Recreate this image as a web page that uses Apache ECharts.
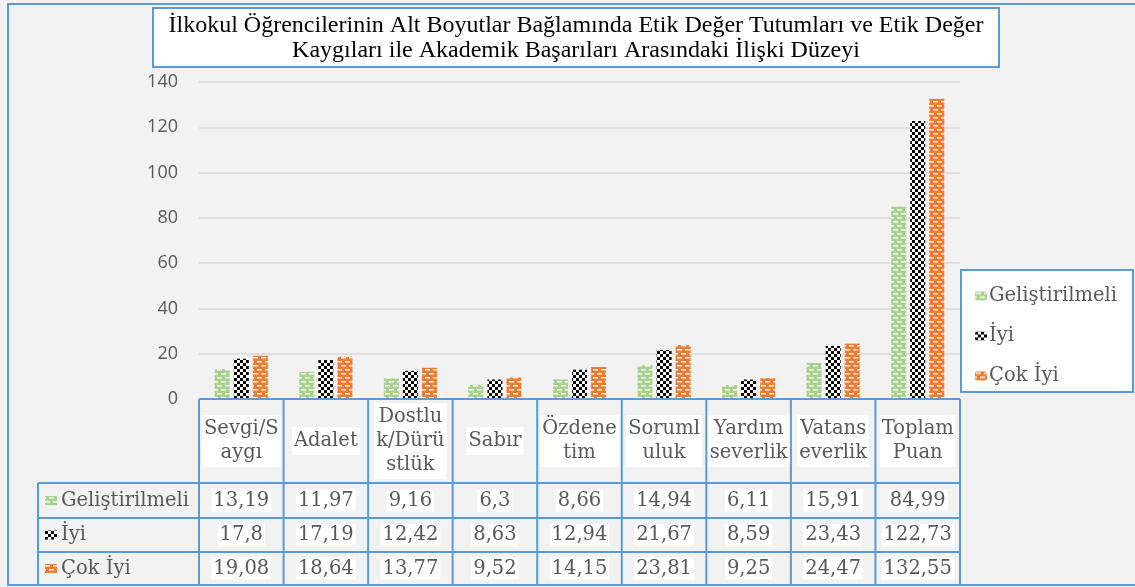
<!DOCTYPE html>
<html>
<head>
<meta charset="utf-8">
<script src="https://cdn.jsdelivr.net/npm/echarts@6/dist/echarts.min.js"></script>
<style>
html,body{margin:0;padding:0;background:#f2f2f2;}
#c{width:1135px;height:587px;}
</style>
</head>
<body>
<div id="c"></div>
<script>
// ---- data ----
const titleText = 'İlkokul Öğrencilerinin Alt Boyutlar Bağlamında Etik Değer Tutumları ve Etik Değer\nKaygıları ile Akademik Başarıları Arasındaki İlişki Düzeyi';
const categories = ['Sevgi/S\naygı', 'Adalet', 'Dostlu\nk/Dürü\nstlük', 'Sabır', 'Özdene\ntim', 'Soruml\nuluk', 'Yardım\nseverlik', 'Vatans\neverlik', 'Toplam\nPuan'];
const seriesNames = ['Geliştirilmeli', 'İyi', 'Çok İyi'];
const gelistirilmeli = [13.19, 11.97, 9.16, 6.3, 8.66, 14.94, 6.11, 15.91, 84.99];
const iyi = [17.8, 17.19, 12.42, 8.63, 12.94, 21.67, 8.59, 23.43, 122.73];
const cokIyi = [19.08, 18.64, 13.77, 9.52, 14.15, 23.81, 9.25, 24.47, 132.55];
const yMax = 140, yStep = 20;

// ---- patterns ----
function brick(base) {
  const c = document.createElement('canvas');
  c.width = 8; c.height = 8;
  const g = c.getContext('2d');
  g.fillStyle = base; g.fillRect(0, 0, 8, 8);
  g.fillStyle = 'rgba(255,255,255,0.95)';
  g.fillRect(1, 1, 5, 1.5);
  g.fillRect(5, 5, 3, 1.5);
  g.fillRect(0, 5, 2, 1.5);
  return { image: c, repeat: 'repeat' };
}
function checker() {
  const c = document.createElement('canvas');
  c.width = 6; c.height = 6;
  const g = c.getContext('2d');
  g.fillStyle = '#ffffff'; g.fillRect(0, 0, 6, 6);
  g.fillStyle = '#000000';
  g.fillRect(0, 0, 3, 3); g.fillRect(3, 3, 3, 3);
  return { image: c, repeat: 'repeat' };
}
const patterns = [brick('#a9d18e'), checker(), brick('#ed7d31')];
const seriesData = [gelistirilmeli, iyi, cokIyi];

const BLUE = '#5b9bd5';
const TXT = '#595959';
const SERIF = '"DejaVu Serif", serif';

const chart = echarts.init(document.getElementById('c'), null, { renderer: 'canvas' });
const option = {
  backgroundColor: '#f2f2f2',
  animation: false,
  grid: { left: 199, right: 175, top: 82, bottom: 188, containLabel: false },
  xAxis: {
    type: 'category', data: categories,
    axisLine: { show: false }, axisTick: { show: false }, axisLabel: { show: false }
  },
  yAxis: {
    type: 'value', min: 0, max: yMax, interval: yStep,
    axisLine: { show: false }, axisTick: { show: false },
    axisLabel: { color: TXT, fontSize: 18, fontFamily: '"Open Sans", sans-serif', margin: 21 },
    splitLine: { lineStyle: { color: '#d9d9d9', width: 1.5 } }
  },
  legend: {
    orient: 'vertical', left: 970, top: 281,
    itemWidth: 12, itemHeight: 9, itemGap: 20,
    textStyle: { color: TXT, fontSize: 19.5, fontFamily: SERIF, lineHeight: 20, padding: [0, 0, 0, -3] },
    data: seriesNames
  },
  series: seriesNames.map((n, i) => ({
    name: n, type: 'bar', data: seriesData[i],
    barWidth: 15, barGap: '27%',
    itemStyle: { color: patterns[i] }
  }))
};
chart.setOption(option);

// ---- table & boxes via graphic ----
function buildGraphic() {
  const centers = categories.map((c, i) => chart.convertToPixel({ xAxisIndex: 0 }, i));
  const band = centers.length > 1 ? centers[1] - centers[0] : 80;
  const left = centers[0] - band / 2;
  const right = centers[centers.length - 1] + band / 2;
  const yTop = chart.convertToPixel({ yAxisIndex: 0 }, 0);
  const rowLines = [483, 518, 552, 585];
  const labelLeft = 38;
  const els = [];
  // outer frame
  els.push({ type: 'rect', shape: { x: 8, y: 4, width: 1140, height: 581 }, style: { fill: null, stroke: BLUE, lineWidth: 2 }, z: 1 });
  // title box
  els.push({ type: 'rect', shape: { x: 153, y: 8, width: 846, height: 59 }, style: { fill: '#fff', stroke: BLUE, lineWidth: 2 }, z: 10 });
  els.push({ type: 'text', x: 576, y: 38, style: { text: titleText, fill: '#000', font: '24px "Liberation Serif", serif', align: 'center', verticalAlign: 'middle', lineHeight: 25 }, z: 11 });
  // legend box
  els.push({ type: 'rect', shape: { x: 961, y: 270, width: 172, height: 122 }, style: { fill: '#fff', stroke: BLUE, lineWidth: 2 }, z: -1 });
  // table horizontal lines
  els.push({ type: 'line', shape: { x1: left, y1: yTop, x2: right, y2: yTop }, style: { stroke: BLUE, lineWidth: 2 }, z: 20 });
  rowLines.forEach(y => els.push({ type: 'line', shape: { x1: labelLeft, y1: y, x2: right, y2: y }, style: { stroke: BLUE, lineWidth: 2 }, z: 20 }));
  // vertical lines
  els.push({ type: 'line', shape: { x1: labelLeft, y1: rowLines[0], x2: labelLeft, y2: rowLines[3] }, style: { stroke: BLUE, lineWidth: 2 }, z: 20 });
  for (let i = 0; i <= categories.length; i++) {
    const x = left + i * band;
    els.push({ type: 'line', shape: { x1: x, y1: yTop, x2: x, y2: rowLines[3] }, style: { stroke: BLUE, lineWidth: 2 }, z: 20 });
  }
  // header texts
  const headMid = (yTop + rowLines[0]) / 2;
  categories.forEach((c, i) => {
    els.push({ type: 'text', x: centers[i], y: headMid, style: { text: c, fill: TXT, font: '19.5px ' + SERIF, align: 'center', verticalAlign: 'middle', lineHeight: 24, backgroundColor: '#fff', padding: [2, 2] }, z: 21 });
  });
  // data rows
  const rowMids = [(rowLines[0] + rowLines[1]) / 2, (rowLines[1] + rowLines[2]) / 2, (rowLines[2] + rowLines[3]) / 2];
  seriesData.forEach((arr, r) => {
    els.push({ type: 'rect', shape: { x: 45, y: rowMids[r] - 4.5, width: 12, height: 9 }, style: { fill: patterns[r] }, z: 21 });
    els.push({ type: 'text', x: 61, y: rowMids[r], style: { text: seriesNames[r], fill: TXT, font: '19.5px ' + SERIF, align: 'left', verticalAlign: 'middle' }, z: 21 });
    arr.forEach((v, i) => {
      els.push({ type: 'text', x: centers[i], y: rowMids[r], style: { text: String(v).replace('.', ','), fill: TXT, font: '19.5px ' + SERIF, align: 'center', verticalAlign: 'middle', backgroundColor: '#fff', padding: [1, 2] }, z: 21 });
    });
  });
  chart.setOption({ graphic: { elements: els } });
}
buildGraphic();
</script>
</body>
</html>
